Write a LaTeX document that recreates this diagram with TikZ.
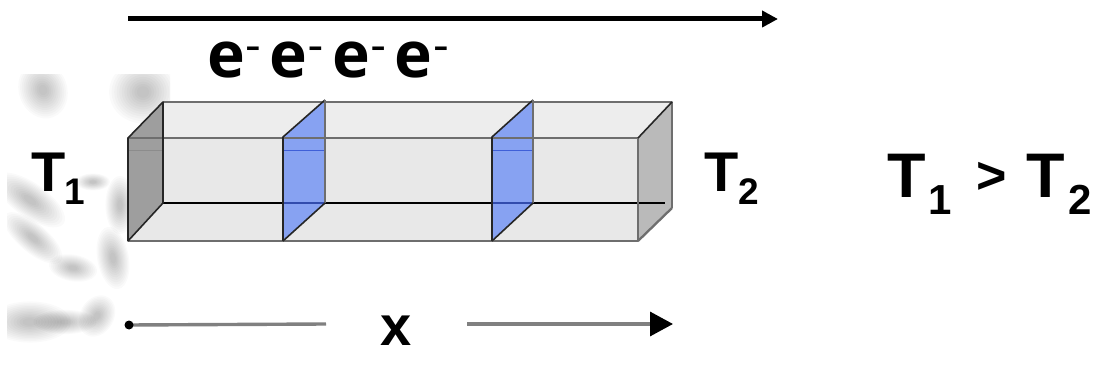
\documentclass[tikz,border=0pt]{standalone}
\usepackage{fontspec}
\setmainfont{Open Sans}
\newfontfamily\armfont{Liberation Sans}
\usetikzlibrary{arrows.meta,calc}
\definecolor{edgegray}{HTML}{6E6E6E}
\definecolor{planeblue}{HTML}{87A2F2}
\definecolor{lineblue}{HTML}{3F5FD8}
\tikzset{
  x=1pt,y=-1pt,
  lab/.style={inner sep=0pt,outer sep=0pt,anchor=base west,text=black,font=\armfont\bfseries\fontsize{#1}{#1}\selectfont},
  lab/.default=55,
  big/.style={inner sep=0pt,outer sep=0pt,anchor=base west,text=black,font=\bfseries\fontsize{#1}{#1}\selectfont},
  smudge/.style={fill=black,draw=none,opacity=.02},
  edge/.style={draw=edgegray,line width=2.3pt,line join=round},
  darkedge/.style={draw=black!85,line width=1.6pt,line join=round},
  backline/.style={draw=black,line width=1.4pt},
  faint/.style={draw=black!45,line width=.9pt},
  toparrow/.style={draw=black,line width=5pt,-{Triangle[length=16pt,width=16pt]}},
  axisline/.style={draw=black!50,line width=3.4pt},
  axistip/.style={draw=black!50,line width=3.4pt,-{Triangle[length=23pt,width=24pt,color=black]}},
}
\newcommand{\Smudge}[5]{\foreach \k in {1,...,12}{\fill[smudge,rotate around={#5:(#1,#2)}] (#1,#2) ellipse [x radius={#3*(1.3-\k*0.09)},y radius={#4*(1.3-\k*0.09)}];}}
\newcommand{\eminus}{e\raisebox{21pt}{\fontsize{34}{34}\selectfont\kern1pt \scalebox{1.3}[.85]{-}}}
\begin{document}
\begin{tikzpicture}
\useasboundingbox (0,0) rectangle (1093,366);
\fill[white] (0,0) rectangle (1093,366);
% mottled background
\begin{scope}
\clip (7,75) rectangle (170,366);
\Smudge{43}{90}{20}{24}{20}
\Smudge{143}{92}{28}{26}{0}
\Smudge{30}{200}{34}{14}{-35}
\Smudge{33}{238}{30}{12}{-40}
\Smudge{73}{268}{20}{11}{-10}
\Smudge{113}{258}{13}{26}{10}
\Smudge{120}{205}{12}{24}{0}
\Smudge{93}{182}{14}{7}{0}
\Smudge{97}{316}{14}{18}{-30}
\Smudge{30}{322}{34}{17}{0}
\Smudge{65}{322}{26}{10}{0}
\end{scope}
% box corners
\coordinate (fa) at (128,138);
\coordinate (fb) at (638,138);
\coordinate (fc) at (638,241);
\coordinate (fd) at (128,241);
\coordinate (ba) at (163,102);
\coordinate (bb) at (672,102);
\coordinate (bc) at (672,208);
\coordinate (bd) at (163,203);
\coordinate (bd2) at (665,203);
% faces
\fill[black!7] (fa) -- (ba) -- (bb) -- (fb) -- cycle;
\fill[black!9] (fa) -- (fb) -- (fc) -- (fd) -- cycle;
\fill[black!27] (fb) -- (bb) -- (bc) -- (fc) -- cycle;
% left face
\fill[black!38] (fa) -- (ba) -- (bd) -- (fd) -- cycle;
\draw[faint] (128,150) -- (163,150);
\draw[backline] (bd) -- (bd2);
% blue planes
\fill[planeblue] (283,137) -- (325,100) -- (325,203) -- (283,241) -- cycle;
\fill[planeblue] (492,137) -- (533,100) -- (533,203) -- (492,241) -- cycle;
\draw[draw=lineblue,line width=.9pt] (283,150) -- (325,150);
\draw[draw=lineblue,line width=.9pt] (492,150) -- (533,150);
\draw[draw=lineblue!80!black,line width=1.2pt] (283,203) -- (325,203);
\draw[draw=lineblue!80!black,line width=1.2pt] (492,203) -- (533,203);
% outer edges
\draw[edge] (ba) -- (bb) -- (bc);
\draw[edge] (fa) -- (fb) -- (fc) -- (fd) -- cycle;
\draw[edge] (fc) -- (bc);
\draw[darkedge] (fb) -- (bb);
\draw[darkedge] (fa) -- (ba) -- (bd) -- (fd);
\draw[darkedge] (fa) -- (fd);
\draw[darkedge] (283,241) -- (283,137) -- (325,100);
\draw[edge,line width=1.5pt] (325,100) -- (325,203);
\draw[darkedge] (325,203) -- (283,241);
\draw[darkedge] (492,241) -- (492,137) -- (533,100);
\draw[edge,line width=1.5pt] (533,100) -- (533,203);
\draw[darkedge] (533,203) -- (492,241);
% top arrow
\coordinate (ts) at (128,19);
\coordinate (te) at (778,19);
\draw[toparrow] (ts) -- (te);
% electrons
\node[big=64] (elec) at (207,78) {\eminus\hspace{-7pt} \eminus\hspace{-7pt} \eminus\hspace{-7pt} \eminus};
% end labels
\node[lab=56] (tone) at (31,192) {T};
\node[lab=37] (tonesub) at (64,205) {1};
\node[lab=56] (ttwo) at (704,192) {T};
\node[lab=37] (ttwosub) at (738,205) {2};
% comparison
\node[lab=63] (cone) at (887,198) {T};
\node[lab=42] (conesub) at (928,215) {1};
\node[lab=52] (cgt) at (976,194) {>};
\node[lab=63] (ctwo) at (1026,198) {T};
\node[lab=42] (ctwosub) at (1068,215) {2};
% x axis
\node[lab=56] (xlab) at (380,345) {x};
\coordinate (ao) at (129,325);
\coordinate (am) at (326,324);
\coordinate (bs) at (467,324);
\coordinate (be) at (673,324);
\draw[axisline] (ao) -- (am);
\fill[black] (ao) circle (4.5);
\draw[axistip] (bs) -- (be);
\end{tikzpicture}
\end{document}
